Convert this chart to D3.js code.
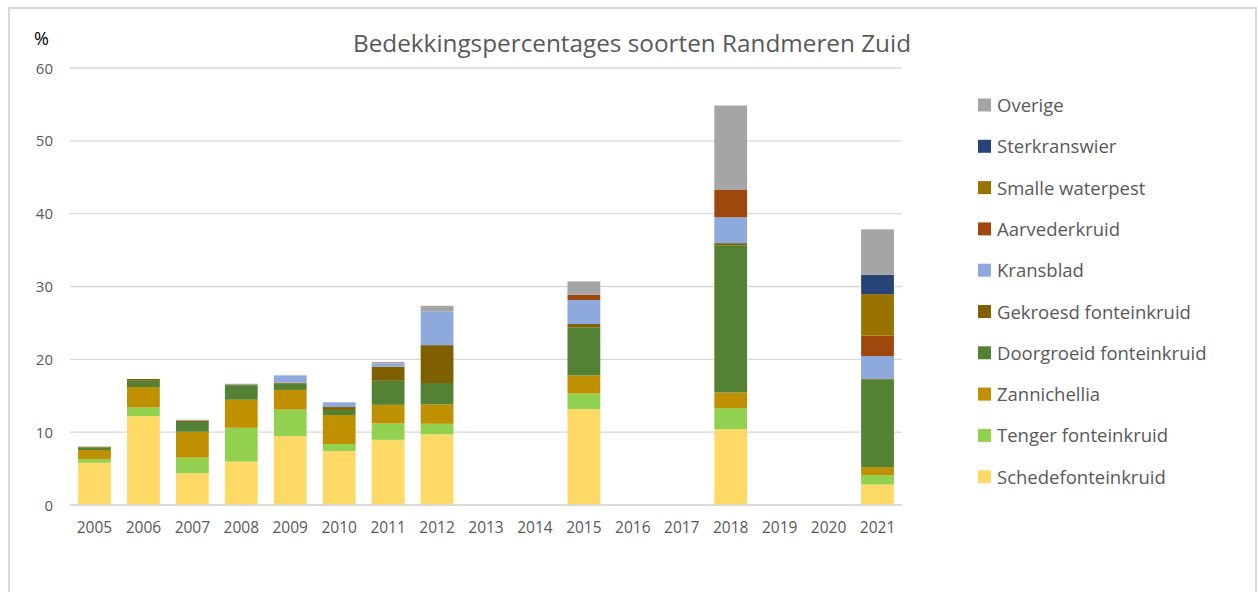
<!DOCTYPE html>
<html><head><meta charset="utf-8">
<script src="https://cdn.jsdelivr.net/npm/d3@7"></script>
<style>body{margin:0;background:#fff;}svg{display:block;}</style>
</head><body>
<svg id="c" width="1258" height="592"></svg>
<script>
const years = ["2005","2006","2007","2008","2009","2010","2011","2012","2013","2014","2015","2016","2017","2018","2019","2020","2021"];
const seriesNames = ["Schedefonteinkruid","Tenger fonteinkruid","Zannichellia","Doorgroeid fonteinkruid","Gekroesd fonteinkruid","Kransblad","Aarvederkruid","Smalle waterpest","Sterkranswier","Overige"];
const seriesColors = ["#FFD966","#92D050","#BF9000","#548235","#7F6000","#8EA9DB","#9E480E","#997300","#264478","#A5A5A5"];
const schede   = [5.8,12.2,4.35,5.95,9.45,7.4,8.95,9.7,0,0,13.15,0,0,10.4,0,0,2.8];
const tenger   = [0.5,1.2,2.15,4.65,3.65,0.95,2.25,1.45,0,0,2.15,0,0,2.9,0,0,1.3];
const zanni    = [1.25,2.8,3.55,3.85,2.7,4.0,2.55,2.65,0,0,2.5,0,0,2.15,0,0,1.1];
const doorgr   = [0.35,0.85,1.35,2.0,0.85,0.7,3.3,2.95,0,0,6.6,0,0,20.2,0,0,12.0];
const gekroesd = [0.1,0.25,0.2,0.1,0.15,0.4,1.95,5.2,0,0,0.45,0,0,0.3,0,0,0.1];
const krans    = [0,0,0.1,0.1,1.0,0.65,0.45,4.65,0,0,3.3,0,0,3.55,0,0,3.15];
const aarveder = [0,0,0,0,0,0,0,0,0,0,0.7,0,0,3.75,0,0,2.8];
const smalle   = [0,0,0,0,0,0,0,0,0,0,0,0,0,0,0,0,5.7];
const sterk    = [0,0,0,0,0,0,0,0,0,0,0,0,0,0,0,0,2.65];
const overige  = [0,0,0,0,0,0,0.2,0.75,0,0,1.85,0,0,11.6,0,0,6.25];
const yTicks = [0,10,20,30,40,50,60];

const seriesValues = [schede,tenger,zanni,doorgr,gekroesd,krans,aarveder,smalle,sterk,overige];
const rows = years.map((y,i)=>{const r={year:y};seriesNames.forEach((s,k)=>r[s]=seriesValues[k][i]);return r;});
const stack = d3.stack().keys(seriesNames)(rows);

const svg = d3.select("#c");
const font = "Open Sans, Liberation Sans, sans-serif";
const txt = "#595959";

svg.append("rect").attr("x",9).attr("y",8).attr("width",1247).attr("height",600)
  .attr("fill","#fff").attr("stroke","#D9D9D9").attr("stroke-width",2);

const x = d3.scaleBand().domain(years).range([70,902]).paddingInner(0.33).paddingOuter(0.165);
const y = d3.scaleLinear().domain([0,60]).range([505,68]);

svg.append("g").selectAll("line").data(yTicks).join("line")
  .attr("x1",70).attr("x2",902).attr("y1",d=>y(d)).attr("y2",d=>y(d))
  .attr("stroke","#D9D9D9").attr("stroke-width",1.3);

svg.append("g").selectAll("text").data(yTicks).join("text")
  .attr("x",53).attr("y",d=>y(d)+5.5).attr("text-anchor","end")
  .attr("font-family",font).attr("font-size",15).attr("fill",txt).text(d=>d);

svg.append("g").selectAll("g").data(stack).join("g")
  .attr("fill",(d,i)=>seriesColors[i])
  .selectAll("rect").data(d=>d).join("rect")
  .attr("x",d=>x(d.data.year)).attr("width",x.bandwidth())
  .attr("y",d=>y(d[1])).attr("height",d=>Math.max(0,y(d[0])-y(d[1])));

svg.append("line").attr("x1",70).attr("x2",902).attr("y1",505).attr("y2",505)
  .attr("stroke","#D9D9D9").attr("stroke-width",1.3);

svg.append("g").selectAll("text").data(years).join("text")
  .attr("x",d=>x(d)+x.bandwidth()/2).attr("y",533).attr("text-anchor","middle")
  .attr("font-family",font).attr("font-size",15.5).attr("fill",txt).text(d=>d);

svg.append("text").attr("x",632).attr("y",52).attr("text-anchor","middle")
  .attr("font-family",font).attr("font-size",24).attr("fill",txt)
  .attr("textLength",558).attr("lengthAdjust","spacingAndGlyphs")
  .text("Bedekkingspercentages soorten Randmeren Zuid");

svg.append("text").attr("x",34).attr("y",45).attr("font-family",font).attr("font-size",18).attr("fill","#000").text("%");

const legendOrder = seriesNames.map((n,i)=>({n,c:seriesColors[i]})).reverse();
const lg = svg.append("g").selectAll("g").data(legendOrder).join("g")
  .attr("transform",(d,i)=>`translate(978,${105+i*41.3})`);
lg.append("rect").attr("x",0).attr("y",-6.5).attr("width",13).attr("height",13).attr("fill",d=>d.c);
lg.append("text").attr("x",19).attr("y",7).attr("font-family",font).attr("font-size",18.5).attr("fill",txt).text(d=>d.n);
</script>
</body></html>
